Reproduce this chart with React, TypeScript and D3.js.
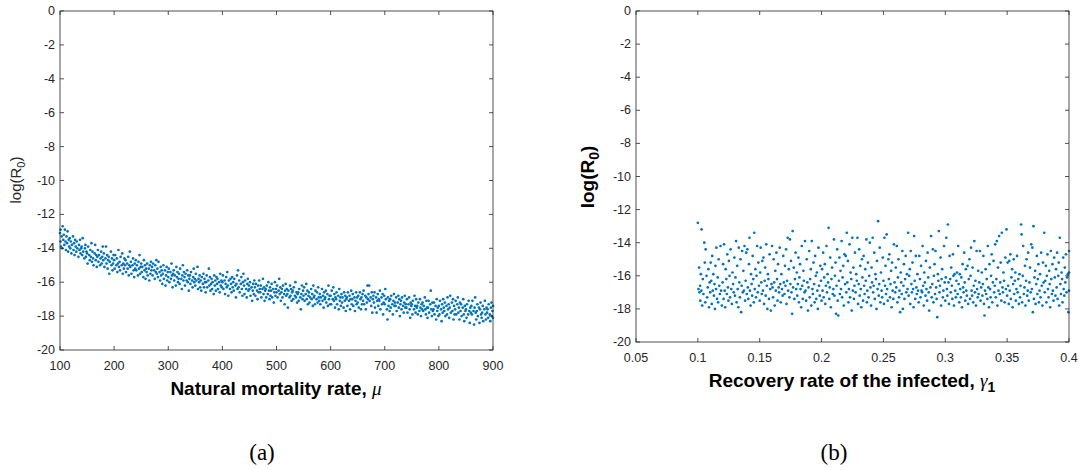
import React from "react";
import * as d3 from "d3";

// Panel (a): natural mortality rate μ vs log(R0) — flat list of [μ, logR0] pairs
const mortalityPoints: number[] = [
100,-13.1,101,-13.6,101,-12.9,102,-13.9,103,-13.3,104,-14.0,105,-12.7,106,-13.5,107,-13.2,108,-13.8,109,-12.9,
110,-13.6,111,-14.1,112,-13.3,113,-13.7,114,-13.0,115,-14.2,116,-13.5,117,-13.9,118,-13.4,119,-14.0,
120,-13.6,121,-14.3,122,-13.8,124,-13.3,125,-14.1,126,-13.7,127,-14.4,128,-13.5,129,-13.9,
130,-14.2,131,-13.6,132,-14.0,134,-14.5,135,-13.8,136,-14.1,137,-13.5,138,-14.3,139,-14.0,
140,-13.9,141,-14.4,142,-13.4,143,-14.2,145,-14.6,146,-14.0,147,-13.8,148,-14.5,149,-14.2,
150,-14.3,151,-14.9,152,-13.9,154,-14.4,155,-14.7,156,-14.1,157,-14.5,158,-13.7,159,-14.8,
160,-14.2,161,-14.6,162,-15.0,164,-14.3,165,-13.8,166,-14.7,167,-14.4,168,-15.1,169,-14.5,
170,-14.1,171,-14.8,172,-14.4,174,-15.0,175,-14.6,176,-14.2,177,-14.9,178,-14.5,179,-13.9,
180,-14.7,181,-14.3,182,-15.1,184,-14.6,185,-13.9,186,-14.9,187,-14.4,188,-15.2,189,-14.7,
190,-14.5,191,-15.5,192,-14.8,194,-14.2,195,-15.0,196,-14.6,197,-15.3,198,-14.9,199,-14.4,
200,-14.7,201,-15.2,202,-14.4,204,-15.0,205,-14.6,206,-15.4,207,-14.9,208,-14.1,209,-15.1,
210,-14.8,211,-15.3,212,-14.5,214,-15.0,215,-14.3,216,-15.5,217,-14.9,218,-15.2,219,-14.6,
220,-15.0,221,-14.7,222,-15.4,224,-14.9,225,-15.2,226,-14.5,227,-15.6,228,-15.0,229,-14.2,
230,-15.1,231,-14.8,232,-15.5,234,-15.0,235,-14.6,236,-15.3,237,-15.7,238,-14.9,239,-15.2,
240,-14.7,241,-15.3,242,-15.0,244,-15.6,245,-14.8,246,-15.2,247,-14.4,248,-15.5,249,-15.1,
250,-14.9,251,-15.4,252,-15.1,254,-15.7,255,-14.7,256,-15.3,257,-15.0,258,-15.8,259,-15.2,
260,-15.4,261,-14.9,262,-15.6,264,-15.2,265,-15.9,266,-15.0,267,-15.5,268,-14.8,269,-15.3,
270,-15.1,271,-15.6,272,-14.9,274,-15.3,275,-15.8,276,-15.0,277,-15.4,278,-14.7,279,-15.5,
280,-15.2,281,-15.7,282,-14.8,284,-15.4,285,-15.9,286,-15.1,287,-15.6,288,-15.3,289,-16.1,
290,-15.5,291,-15.0,292,-15.8,294,-15.3,295,-16.2,296,-15.6,297,-15.1,298,-15.9,299,-15.4,
300,-15.7,301,-15.2,302,-16.0,304,-15.4,305,-15.8,306,-14.9,307,-15.6,308,-16.3,309,-15.5,
310,-15.3,311,-15.9,312,-15.6,314,-16.2,315,-15.1,316,-15.7,317,-15.4,318,-16.0,319,-15.8,
320,-15.5,321,-16.1,322,-15.2,324,-15.8,325,-16.4,326,-15.6,327,-15.0,328,-15.9,329,-15.4,
330,-15.7,331,-16.2,332,-15.5,334,-15.9,335,-15.3,336,-16.0,337,-15.6,338,-16.5,339,-15.8,
340,-15.6,341,-16.1,342,-15.4,344,-15.9,345,-16.3,346,-15.7,347,-15.2,348,-16.0,349,-15.8,
350,-16.2,351,-15.5,352,-15.9,354,-15.1,355,-16.4,356,-15.8,357,-16.0,358,-15.6,359,-16.3,
360,-15.9,361,-16.5,362,-15.7,364,-16.1,365,-15.5,366,-16.3,367,-15.8,368,-16.0,369,-16.6,
370,-16.0,371,-15.6,372,-16.3,374,-15.9,375,-15.2,376,-16.2,377,-15.7,378,-16.5,379,-16.1,
380,-15.8,381,-16.4,382,-16.0,384,-16.7,385,-15.6,386,-16.2,387,-15.9,388,-16.5,389,-15.7,
390,-16.1,391,-15.8,392,-16.4,394,-16.0,395,-16.6,396,-15.5,397,-16.2,398,-15.9,399,-16.3,
400,-16.0,401,-15.6,402,-16.4,404,-15.9,405,-16.7,406,-16.1,407,-15.7,408,-16.3,409,-15.4,
410,-16.2,411,-16.8,412,-15.9,414,-16.4,415,-15.8,416,-16.1,417,-16.6,418,-15.7,419,-16.3,
420,-16.0,421,-16.5,422,-15.8,424,-16.2,425,-16.9,426,-16.1,427,-15.6,428,-16.4,429,-15.3,
430,-16.3,431,-15.9,432,-16.6,434,-16.1,435,-15.7,436,-16.4,437,-16.8,438,-16.0,439,-15.5,
440,-16.2,441,-16.7,442,-15.9,444,-16.4,445,-16.9,446,-16.1,447,-15.8,448,-16.5,449,-16.2,
450,-16.4,451,-16.0,452,-16.8,454,-16.3,455,-17.1,456,-16.5,457,-16.1,458,-16.7,459,-15.9,
460,-16.3,461,-16.8,462,-16.1,464,-16.5,465,-17.0,466,-16.2,467,-16.6,468,-15.9,469,-16.4,
470,-16.6,471,-16.2,472,-16.9,474,-16.4,475,-15.8,476,-16.7,477,-16.3,478,-17.1,479,-16.5,
480,-16.4,481,-16.9,482,-16.2,484,-16.7,485,-16.0,486,-16.5,487,-17.0,488,-16.3,489,-16.8,
490,-16.5,491,-16.1,492,-16.9,494,-16.4,495,-17.2,496,-16.6,497,-16.0,498,-16.8,499,-16.4,
500,-16.6,501,-16.2,502,-16.9,504,-16.5,505,-15.8,506,-16.7,507,-16.3,508,-17.1,509,-16.6,
510,-16.4,511,-16.9,512,-16.2,514,-16.7,515,-17.3,516,-16.5,517,-16.1,518,-16.8,519,-16.4,
520,-16.7,521,-17.5,522,-16.5,524,-16.9,525,-16.2,526,-16.8,527,-16.4,528,-17.1,529,-16.6,
530,-16.5,531,-17.0,532,-16.3,534,-16.8,535,-16.0,536,-16.9,537,-16.6,538,-17.2,539,-16.7,
540,-16.6,541,-17.1,542,-16.4,544,-16.9,545,-17.6,546,-16.7,547,-16.2,548,-17.0,549,-16.5,
550,-16.8,551,-16.3,552,-17.1,554,-16.7,555,-16.1,556,-17.0,557,-16.5,558,-17.3,559,-16.8,
560,-16.6,561,-17.2,562,-16.9,564,-16.4,565,-17.0,566,-16.7,567,-17.4,568,-16.2,569,-16.9,
570,-16.8,571,-17.3,572,-16.5,574,-17.0,575,-16.6,576,-17.2,577,-16.3,578,-16.9,579,-17.1,
580,-16.7,581,-17.3,582,-16.9,584,-16.4,585,-17.1,586,-16.8,587,-17.5,588,-16.6,589,-17.0,
590,-16.9,591,-16.5,592,-17.2,594,-16.7,595,-17.4,596,-16.2,597,-17.0,598,-16.8,599,-17.3,
600,-16.8,601,-17.3,602,-16.5,604,-17.0,605,-16.3,606,-17.1,607,-16.7,608,-17.5,609,-16.9,
610,-17.0,611,-16.6,612,-17.3,614,-16.8,615,-17.6,616,-16.4,617,-17.1,618,-16.9,619,-17.4,
620,-16.7,621,-17.2,622,-16.9,624,-17.5,625,-16.6,626,-17.1,627,-16.8,628,-17.7,629,-17.0,
630,-16.9,631,-17.4,632,-16.6,634,-17.1,635,-16.8,636,-17.6,637,-17.0,638,-16.5,639,-17.3,
640,-17.0,641,-16.7,642,-17.4,644,-16.9,645,-17.7,646,-17.1,647,-16.6,648,-17.3,649,-16.9,
650,-17.2,651,-16.8,652,-17.5,654,-16.6,655,-17.0,656,-17.6,657,-16.9,658,-17.3,659,-16.7,
660,-17.1,661,-16.5,662,-17.3,664,-16.8,665,-17.6,666,-16.9,667,-17.2,668,-16.2,669,-17.0,
670,-16.7,671,-16.2,672,-17.1,674,-16.9,675,-17.4,676,-16.6,677,-17.8,678,-17.0,679,-16.8,
680,-17.2,681,-16.6,682,-17.5,684,-16.9,685,-17.8,686,-17.1,687,-16.7,688,-17.4,689,-17.0,
690,-17.1,691,-16.5,692,-17.6,694,-16.9,695,-17.3,696,-16.7,697,-17.9,698,-17.2,699,-16.8,
700,-17.3,701,-16.4,702,-17.0,704,-17.6,705,-18.2,706,-16.9,707,-17.4,708,-17.1,709,-17.7,
710,-17.0,711,-17.5,712,-16.8,714,-17.3,715,-17.9,716,-17.1,717,-16.7,718,-17.4,719,-17.2,
720,-17.4,721,-16.9,722,-17.7,724,-17.2,725,-16.8,726,-17.5,727,-17.0,728,-18.0,729,-17.3,
730,-17.1,731,-17.6,732,-16.9,734,-17.4,735,-17.8,736,-17.2,737,-16.8,738,-17.5,739,-17.3,
740,-17.5,741,-17.0,742,-17.8,744,-17.3,745,-16.9,746,-17.6,747,-18.1,748,-17.2,749,-17.4,
750,-17.3,751,-17.9,752,-17.1,754,-17.6,755,-16.8,756,-17.4,757,-17.8,758,-17.0,759,-17.5,
760,-17.4,761,-17.9,762,-17.2,764,-17.7,765,-17.0,766,-17.5,767,-18.0,768,-17.3,769,-17.6,
770,-17.2,771,-17.7,772,-17.4,774,-16.9,775,-17.6,776,-17.9,777,-17.1,778,-17.5,779,-18.1,
780,-17.5,781,-17.1,782,-17.8,784,-17.3,785,-16.5,786,-17.6,787,-18.0,788,-17.2,789,-17.7,
790,-17.6,791,-17.2,792,-17.9,794,-17.4,795,-18.2,796,-17.0,797,-17.7,798,-17.5,799,-18.0,
800,-17.4,801,-17.9,802,-17.1,804,-17.6,805,-18.3,806,-17.3,807,-17.8,808,-17.0,809,-17.5,
810,-17.7,811,-17.2,812,-18.0,814,-17.4,815,-17.9,816,-16.9,817,-17.6,818,-17.3,819,-18.1,
820,-17.5,821,-16.8,822,-17.8,824,-17.2,825,-17.7,826,-17.0,827,-18.2,828,-17.4,829,-17.9,
830,-17.6,831,-17.1,832,-17.9,834,-17.3,835,-16.9,836,-17.8,837,-17.5,838,-18.2,839,-17.2,
840,-17.7,841,-17.3,842,-18.0,844,-17.5,845,-17.0,846,-17.9,847,-18.3,848,-17.4,849,-17.7,
850,-17.6,851,-18.1,852,-17.3,854,-17.9,855,-17.1,856,-17.7,857,-18.4,858,-17.5,859,-17.8,
860,-17.4,861,-17.9,862,-17.1,864,-17.7,865,-18.5,866,-17.5,867,-16.9,868,-17.8,869,-18.2,
870,-17.7,871,-17.3,872,-18.0,874,-17.5,875,-18.4,876,-17.6,877,-17.2,878,-17.9,879,-18.1,
880,-17.8,881,-17.4,882,-18.3,884,-17.6,885,-17.1,886,-17.9,887,-18.2,888,-17.5,889,-17.8,
890,-17.6,891,-18.1,892,-17.3,894,-17.9,895,-18.3,896,-17.5,897,-17.2,898,-18.0,899,-17.7,900,-17.4,900,-18.1,
];

// Panel (b): recovery rate γ1 vs log(R0) — flat list of [γ1, logR0] pairs
const recoveryPoints: number[] = [
0.1,-12.8,0.1005,-16.8,0.101,-15.5,0.1013,-17.0,0.1018,-16.6,0.102,-17.5,0.1024,-15.9,0.1028,-16.9,0.103,-13.2,0.1035,-17.8,0.104,-16.2,0.1045,-17.1,0.1052,-14.0,0.1056,-15.2,0.106,-17.6,0.1063,-14.4,0.107,-16.0,0.1075,-17.3,0.108,-16.7,0.1085,-15.6,0.109,-17.9,0.1095,-16.4,
0.110,-17.0,0.1104,-15.2,0.1108,-16.3,0.1112,-17.7,0.1116,-14.8,0.112,-16.9,0.1125,-15.9,0.113,-17.2,0.1134,-16.5,0.1138,-18.0,0.1142,-15.4,0.1147,-16.8,0.115,-14.3,0.1155,-17.4,0.116,-16.1,0.1164,-17.6,0.1168,-15.0,0.1173,-16.6,0.1178,-17.1,0.1183,-14.2,0.1188,-16.9,0.1194,-17.8,
0.120,-16.4,0.1204,-15.3,0.1208,-17.4,0.1212,-14.1,0.1217,-16.9,0.1221,-17.9,0.1225,-15.6,0.123,-16.2,0.1234,-17.1,0.1238,-14.7,0.1243,-16.7,0.1247,-17.5,0.1251,-15.1,0.1256,-16.0,0.126,-17.3,0.1265,-14.4,0.127,-16.8,0.1275,-17.7,0.128,-15.8,0.1285,-16.5,0.129,-17.0,0.1295,-14.9,
0.1300,-17.2,0.1304,-16.1,0.1309,-13.9,0.1313,-17.6,0.1318,-15.4,0.1322,-16.8,0.1327,-17.9,0.1331,-14.3,0.1335,-16.4,0.134,-17.3,0.1345,-15.0,0.135,-18.2,0.1354,-16.6,0.1358,-14.5,0.1363,-17.0,0.1368,-15.7,0.1372,-16.9,0.1377,-14.2,0.1382,-17.5,0.1386,-16.3,0.1391,-14.6,0.1396,-17.1,
0.140,-14.4,0.1404,-16.7,0.1408,-17.4,0.1413,-15.3,0.1417,-13.7,0.1421,-16.9,0.1426,-17.8,0.143,-15.9,0.1435,-16.5,0.1439,-17.2,0.1443,-14.8,0.1448,-16.2,0.1452,-17.6,0.1456,-13.4,0.146,-16.8,0.1465,-15.6,0.147,-17.3,0.1474,-16.0,0.1479,-14.2,0.1484,-17.0,0.1489,-15.2,0.1494,-16.6,
0.150,-17.5,0.1504,-15.8,0.1508,-14.3,0.1513,-16.4,0.1517,-17.1,0.1521,-15.1,0.1526,-16.9,0.153,-14.9,0.1535,-17.7,0.154,-16.3,0.1544,-15.5,0.1548,-17.2,0.1553,-14.1,0.1557,-16.6,0.1562,-18.0,0.1566,-15.9,0.157,-16.2,0.1575,-17.4,0.158,-14.7,0.1585,-16.8,0.159,-18.1,0.1595,-16.5,
0.160,-14.2,0.1604,-16.7,0.1608,-17.3,0.1613,-15.0,0.1617,-16.4,0.1621,-17.8,0.1626,-15.7,0.163,-16.9,0.1635,-14.6,0.164,-16.2,0.1644,-17.5,0.1648,-15.3,0.1653,-16.7,0.1657,-17.0,0.1662,-14.3,0.1666,-16.5,0.167,-17.6,0.1675,-15.9,0.168,-16.8,0.1685,-17.2,0.169,-14.8,0.1695,-16.4,
0.170,-17.1,0.1704,-15.4,0.1708,-16.6,0.1713,-14.4,0.1717,-17.7,0.1721,-16.3,0.1726,-13.7,0.173,-16.9,0.1735,-15.6,0.174,-17.3,0.1744,-13.8,0.1748,-16.5,0.1753,-15.1,0.1757,-17.0,0.1762,-18.3,0.1766,-13.3,0.177,-16.7,0.1775,-15.5,0.178,-17.4,0.1785,-16.2,0.179,-14.6,0.1795,-16.8,
0.180,-15.8,0.1804,-17.2,0.1808,-16.5,0.1813,-14.9,0.1817,-17.6,0.1821,-16.1,0.1826,-15.3,0.183,-16.8,0.1835,-17.9,0.184,-14.2,0.1844,-16.6,0.1848,-17.4,0.1853,-15.7,0.1857,-16.3,0.1862,-17.0,0.1866,-13.9,0.187,-16.9,0.1875,-17.5,0.188,-15.0,0.1885,-16.4,0.189,-18.1,0.1895,-16.7,
0.190,-14.5,0.1904,-17.3,0.1908,-16.2,0.1913,-15.6,0.1917,-17.8,0.1921,-13.9,0.1926,-16.8,0.193,-17.1,0.1935,-15.2,0.194,-16.5,0.1944,-17.6,0.1948,-14.8,0.1953,-16.0,0.1957,-17.4,0.1962,-15.8,0.1966,-16.9,0.197,-18.0,0.1975,-14.3,0.198,-16.6,0.1985,-17.2,0.199,-15.4,0.1995,-16.3,
0.200,-17.5,0.2004,-15.6,0.2008,-16.9,0.2013,-14.6,0.2017,-17.3,0.2021,-16.1,0.2026,-15.3,0.203,-17.7,0.2035,-16.6,0.204,-14.2,0.2044,-17.0,0.2048,-15.9,0.2053,-16.4,0.2057,-13.1,0.2062,-17.4,0.2066,-16.7,0.207,-14.9,0.2075,-17.9,0.208,-16.2,0.2085,-15.5,0.209,-17.1,0.2095,-16.8,
0.210,-13.8,0.2104,-17.2,0.2108,-16.0,0.2113,-15.2,0.2117,-18.3,0.2121,-16.6,0.2126,-14.4,0.213,-17.5,0.2135,-18.4,0.214,-16.3,0.2144,-14.9,0.2148,-17.1,0.2153,-15.7,0.2157,-16.8,0.2162,-13.9,0.2166,-17.3,0.217,-16.1,0.2175,-15.4,0.218,-17.8,0.2185,-14.7,0.219,-16.5,0.2195,-14.8,
0.220,-17.0,0.2204,-13.4,0.2208,-16.4,0.2213,-15.1,0.2217,-17.6,0.2221,-16.8,0.2226,-14.1,0.223,-17.3,0.2235,-15.8,0.224,-16.2,0.2244,-18.1,0.2248,-13.7,0.2253,-16.9,0.2257,-15.5,0.2262,-17.4,0.2266,-16.6,0.227,-14.6,0.2275,-17.0,0.228,-15.9,0.2285,-16.3,0.229,-13.7,0.2295,-17.7,
0.230,-16.5,0.2304,-14.4,0.2308,-17.2,0.2313,-15.4,0.2317,-16.8,0.2321,-17.9,0.2326,-15.0,0.233,-16.1,0.2335,-17.5,0.234,-14.8,0.2344,-16.6,0.2348,-17.1,0.2353,-15.6,0.2357,-16.3,0.2362,-13.8,0.2366,-17.6,0.237,-16.9,0.2375,-15.2,0.238,-17.3,0.2385,-16.0,0.239,-14.0,0.2395,-16.7,
0.240,-17.8,0.2404,-15.5,0.2408,-16.4,0.2413,-13.7,0.2417,-17.0,0.2421,-16.6,0.2426,-14.6,0.243,-17.4,0.2435,-15.9,0.244,-16.2,0.2444,-18.0,0.2448,-15.1,0.2453,-16.8,0.2457,-12.7,0.2462,-17.2,0.2466,-16.5,0.247,-14.3,0.2475,-17.6,0.248,-15.8,0.2485,-16.9,0.249,-17.3,0.2495,-14.9,
0.250,-16.3,0.2504,-17.7,0.2508,-13.7,0.2513,-16.6,0.2517,-15.4,0.2521,-17.1,0.2526,-13.5,0.253,-16.8,0.2535,-17.5,0.254,-15.0,0.2544,-16.2,0.2548,-14.7,0.2553,-17.3,0.2557,-16.5,0.2562,-15.7,0.2566,-17.9,0.257,-15.2,0.2575,-16.9,0.258,-17.4,0.2585,-14.1,0.259,-16.4,0.2595,-17.0,
0.260,-15.5,0.2604,-16.7,0.2608,-14.2,0.2613,-17.6,0.2617,-16.1,0.2621,-15.0,0.2626,-17.3,0.263,-16.9,0.2635,-18.2,0.264,-15.8,0.2644,-16.4,0.2648,-17.1,0.2653,-14.5,0.2657,-18.0,0.2662,-16.6,0.2666,-15.3,0.267,-17.4,0.2675,-16.2,0.268,-14.8,0.2685,-17.0,0.269,-15.9,0.2695,-16.8,
0.270,-13.4,0.2704,-17.2,0.2708,-16.0,0.2713,-15.6,0.2717,-17.7,0.2721,-14.5,0.2726,-16.5,0.273,-17.0,0.2735,-15.2,0.274,-16.8,0.2744,-17.9,0.2748,-13.6,0.2753,-16.3,0.2757,-17.4,0.2762,-14.8,0.2766,-16.7,0.277,-17.1,0.2775,-15.9,0.278,-16.9,0.2785,-17.6,0.279,-14.8,0.2795,-16.2,
0.280,-17.3,0.2804,-15.4,0.2808,-16.9,0.2813,-17.0,0.2817,-14.2,0.2821,-16.6,0.2826,-17.8,0.283,-15.8,0.2835,-16.4,0.284,-17.2,0.2844,-15.1,0.2848,-16.8,0.2853,-17.5,0.2857,-14.6,0.2862,-16.1,0.2866,-17.0,0.287,-18.1,0.2875,-15.5,0.288,-16.7,0.2885,-13.6,0.289,-17.3,0.2895,-16.5,
0.290,-14.4,0.2904,-17.6,0.2908,-16.0,0.2913,-15.3,0.2917,-17.1,0.2921,-14.5,0.2926,-16.7,0.293,-17.4,0.2935,-18.5,0.294,-15.9,0.2944,-16.3,0.2948,-13.3,0.2953,-17.0,0.2957,-16.6,0.2962,-14.9,0.2966,-17.8,0.297,-16.2,0.2975,-15.6,0.298,-17.3,0.2985,-16.9,0.299,-14.2,0.2995,-16.4,
0.300,-17.5,0.3004,-16.1,0.3008,-13.7,0.3013,-16.8,0.3017,-17.2,0.3021,-12.9,0.3026,-16.4,0.303,-17.7,0.3035,-14.8,0.304,-16.2,0.3044,-17.0,0.3048,-15.5,0.3053,-16.6,0.3057,-17.4,0.3062,-14.7,0.3066,-16.0,0.307,-17.8,0.3075,-15.9,0.308,-16.9,0.3085,-17.3,0.309,-16.3,0.3095,-15.8,
0.310,-17.1,0.3104,-14.2,0.3108,-16.5,0.3113,-17.6,0.3117,-15.9,0.3121,-16.8,0.3126,-17.3,0.313,-16.1,0.3135,-17.9,0.314,-15.3,0.3144,-16.7,0.3148,-17.0,0.3153,-14.6,0.3157,-16.4,0.3162,-17.5,0.3166,-15.6,0.317,-16.9,0.3175,-17.2,0.318,-15.4,0.3185,-17.7,0.319,-16.2,0.3195,-15.0,
0.320,-17.4,0.3204,-16.0,0.3208,-14.3,0.3213,-16.9,0.3217,-17.2,0.3221,-15.5,0.3226,-17.6,0.323,-16.6,0.3235,-13.9,0.324,-17.0,0.3244,-16.3,0.3248,-17.8,0.3253,-14.5,0.3257,-16.8,0.3262,-17.3,0.3266,-15.7,0.327,-17.1,0.3275,-16.4,0.328,-14.5,0.3285,-17.5,0.329,-16.7,0.3295,-15.8,
0.330,-17.2,0.3304,-16.5,0.3308,-14.8,0.3313,-17.7,0.3317,-18.4,0.3321,-16.9,0.3326,-15.6,0.333,-17.1,0.3335,-16.2,0.334,-17.4,0.3344,-14.2,0.3348,-16.7,0.3353,-17.9,0.3357,-15.3,0.3362,-16.8,0.3366,-17.3,0.337,-16.0,0.3375,-14.7,0.338,-17.6,0.3385,-16.4,0.339,-15.1,0.3395,-17.0,
0.340,-16.6,0.3404,-14.1,0.3408,-17.3,0.3413,-16.2,0.3417,-13.9,0.3421,-17.8,0.3426,-15.5,0.343,-16.9,0.3435,-13.6,0.344,-17.1,0.3444,-16.4,0.3448,-15.2,0.3453,-17.5,0.3457,-13.4,0.3462,-16.7,0.3466,-17.0,0.347,-15.8,0.3475,-16.3,0.348,-17.6,0.3485,-14.9,0.349,-16.8,0.3495,-13.2,
0.350,-17.2,0.3504,-15.2,0.3508,-16.6,0.3513,-17.7,0.3517,-15.1,0.3521,-16.9,0.3526,-14.7,0.353,-17.4,0.3535,-16.1,0.354,-15.6,0.3544,-17.9,0.3548,-16.5,0.3553,-15.0,0.3557,-17.1,0.3562,-16.3,0.3566,-15.8,0.357,-17.5,0.3575,-16.8,0.358,-14.8,0.3585,-17.0,0.359,-16.2,0.3595,-17.7,
0.360,-15.9,0.3604,-17.3,0.3608,-16.6,0.3613,-12.9,0.3617,-13.5,0.3621,-17.6,0.3626,-16.0,0.363,-14.2,0.3635,-17.1,0.364,-16.7,0.3644,-15.4,0.3648,-17.8,0.3653,-16.3,0.3657,-15.0,0.3662,-17.2,0.3666,-16.9,0.367,-14.6,0.3675,-17.5,0.368,-16.4,0.3685,-15.5,0.369,-17.0,0.3695,-14.1,
0.370,-16.8,0.3704,-14.3,0.3708,-18.2,0.3713,-13.0,0.3717,-17.4,0.3721,-16.1,0.3726,-15.7,0.373,-17.7,0.3735,-16.5,0.374,-14.8,0.3744,-17.1,0.3748,-16.2,0.3753,-15.3,0.3757,-17.6,0.3762,-16.9,0.3766,-15.9,0.377,-17.3,0.3775,-14.6,0.378,-16.6,0.3785,-17.8,0.379,-15.2,0.3795,-16.4,
0.380,-13.4,0.3804,-17.0,0.3808,-16.3,0.3813,-15.4,0.3817,-17.6,0.3821,-16.0,0.3826,-14.7,0.383,-16.8,0.3835,-17.3,0.384,-15.7,0.3844,-16.5,0.3848,-17.9,0.3853,-14.5,0.3857,-16.2,0.3862,-17.1,0.3866,-15.3,0.387,-16.9,0.3875,-17.5,0.388,-14.9,0.3885,-16.1,0.389,-17.2,0.3895,-15.6,
0.390,-16.7,0.3904,-14.6,0.3908,-17.4,0.3913,-16.0,0.3917,-15.2,0.3921,-17.8,0.3926,-13.7,0.393,-16.5,0.3935,-17.1,0.394,-15.8,0.3944,-16.2,0.3948,-17.6,0.3953,-14.9,0.3957,-16.8,0.3962,-17.2,0.3966,-15.5,0.397,-16.4,0.3975,-14.7,0.398,-17.0,0.3985,-16.1,0.399,-15.9,0.3995,-18.2,0.4,-15.8,0.4,-16.9,0.4,-14.5,
];

const muTicks = [100, 200, 300, 400, 500, 600, 700, 800, 900];
const gammaTicks = [0.05, 0.1, 0.15, 0.2, 0.25, 0.3, 0.35, 0.4];
const logTicks = [0, -2, -4, -6, -8, -10, -12, -14, -16, -18, -20];

const DOT = "#0072BD";
const AXIS = "#262626";
const SANS = "'Liberation Sans', Arial, Helvetica, sans-serif";
const SERIF = "'Liberation Serif', 'Times New Roman', serif";

function toPairs(flat: number[]): [number, number][] {
  const out: [number, number][] = [];
  for (let i = 0; i + 1 < flat.length; i += 2) out.push([flat[i], flat[i + 1]]);
  return out;
}

type PanelProps = {
  x: d3.ScaleLinear<number, number>;
  y: d3.ScaleLinear<number, number>;
  xTicks: number[];
  fmt: (v: number) => string;
  pts: [number, number][];
};

function Panel({ x, y, xTicks, fmt, pts }: PanelProps) {
  const [x0, x1] = x.range();
  const [y0, y1] = y.range(); // y0 bottom, y1 top
  const tl = 4;
  return (
    <g>
      {pts.map((p, i) => (
        <circle key={i} cx={x(p[0])} cy={y(p[1])} r={1.35} fill={DOT} />
      ))}
      <rect x={x0} y={y1} width={x1 - x0} height={y0 - y1} fill="none" stroke={AXIS} strokeWidth={0.8} />
      {logTicks.map((t) => (
        <g key={"y" + t}>
          <line x1={x0} x2={x0 + tl} y1={y(t)} y2={y(t)} stroke={AXIS} strokeWidth={0.8} />
          <line x1={x1} x2={x1 - tl} y1={y(t)} y2={y(t)} stroke={AXIS} strokeWidth={0.8} />
          <text x={x0 - 5} y={y(t) + 4} textAnchor="end" fontFamily={SANS} fontSize={12.5} fill={AXIS}>
            {t}
          </text>
        </g>
      ))}
      {xTicks.map((t) => (
        <g key={"x" + t}>
          <line x1={x(t)} x2={x(t)} y1={y0} y2={y0 - tl} stroke={AXIS} strokeWidth={0.8} />
          <line x1={x(t)} x2={x(t)} y1={y1} y2={y1 + tl} stroke={AXIS} strokeWidth={0.8} />
          <text x={x(t)} y={y0 + 20} textAnchor="middle" fontFamily={SANS} fontSize={12.5} fill={AXIS}>
            {fmt(t)}
          </text>
        </g>
      ))}
    </g>
  );
}

export default function App() {
  const xa = d3.scaleLinear().domain([100, 900]).range([60, 493]);
  const ya = d3.scaleLinear().domain([-20, 0]).range([350, 11]);
  const xb = d3.scaleLinear().domain([0.05, 0.4]).range([636, 1069]);
  const yb = d3.scaleLinear().domain([-20, 0]).range([342, 11]);
  const ptsA = toPairs(mortalityPoints);
  const ptsB = toPairs(recoveryPoints);
  const fmtA = (v: number) => String(v);
  const fmtB = (v: number) => String(+v.toFixed(2));

  return (
    <svg width={1081} height={470} style={{ position: "absolute", left: 0, top: 0, background: "#fff" }}>
      <rect width={1081} height={470} fill="#fff" />
      <Panel x={xa} y={ya} xTicks={muTicks} fmt={fmtA} pts={ptsA} />
      <Panel x={xb} y={yb} xTicks={gammaTicks} fmt={fmtB} pts={ptsB} />

      {/* panel (a) labels */}
      <text x={276} y={395} textAnchor="middle" fontFamily={SANS} fontSize={19} fontWeight="bold" fill="#000">
        Natural mortality rate,{" "}
        <tspan fontFamily={SERIF} fontStyle="italic" fontWeight="normal">μ</tspan>
      </text>
      <text transform="translate(21,180) rotate(-90)" textAnchor="middle" fontFamily={SANS} fontSize={15} fill={AXIS}>
        log(R<tspan dy={4} fontSize={11}>0</tspan><tspan dy={-4}>)</tspan>
      </text>

      {/* panel (b) labels */}
      <text x={852} y={387} textAnchor="middle" fontFamily={SANS} fontSize={19} fontWeight="bold" fill="#000">
        Recovery rate of the infected,{" "}
        <tspan fontFamily={SERIF} fontStyle="italic" fontWeight="normal">γ</tspan>
        <tspan dy={5} fontSize={14}>1</tspan>
      </text>
      <text transform="translate(594,177) rotate(-90)" textAnchor="middle" fontFamily={SANS} fontSize={19} fontWeight="bold" fill="#000">
        log(R<tspan dy={5} fontSize={14}>0</tspan><tspan dy={-5}>)</tspan>
      </text>

      {/* captions */}
      <text x={262} y={460} textAnchor="middle" fontFamily={SERIF} fontSize={23} fill="#000">(a)</text>
      <text x={834} y={460} textAnchor="middle" fontFamily={SERIF} fontSize={23} fill="#000">(b)</text>
    </svg>
  );
}
